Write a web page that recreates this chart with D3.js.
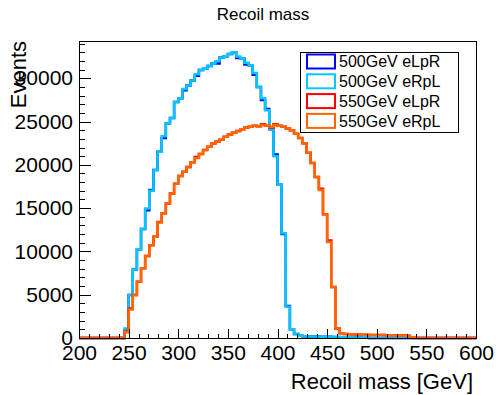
<!DOCTYPE html>
<html>
<head>
<meta charset="utf-8">
<script src="https://cdn.jsdelivr.net/npm/d3@7/dist/d3.min.js"></script>
<style>
  body { margin: 0; background: #fff; }
  svg { font-family: "Liberation Sans", Arial, sans-serif; }
</style>
</head>
<body>
<figure id="chart" style="margin:0"></figure>
<script>
// histogram: 96 bins between 200 and 600 GeV
const xMin = 200, xMax = 600, nBins = 96;

const seriesNames = ["500GeV eLpR", "500GeV eRpL", "550GeV eLpR", "550GeV eRpL"];
const seriesColors = ["#0000ff", "#00c8ff", "#ff0000", "#ff6600"];

const xTicks = [200, 250, 300, 350, 400, 450, 500, 550, 600];
const yTicks = [0, 5000, 10000, 15000, 20000, 25000, 30000];

// bin contents (events), bin 0 .. bin 95
const e500LpR = [
  0, 0, 0, 0, 0, 0, 0, 0, 0, 0,
  0, 900, 4970, 7900, 10250, 12600, 14750, 17100, 19400, 21500,
  23100, 24800, 25400, 27250, 27700, 28600, 29150, 29750, 30300, 30950,
  31100, 31400, 31700, 31700, 32400, 32550, 32800, 33000, 32350, 32300,
  31600, 31500, 30400, 29000, 27500, 26450, 24100, 21200, 17700, 12000,
  3700, 1000, 450, 250, 200, 180, 170, 160, 150, 140,
  130, 120, 110, 100, 90, 80, 70, 60, 40, 20,
  0, 0, 0, 0, 0, 0, 0, 0, 0, 0,
  0, 0, 0, 0, 0, 0, 0, 0, 0, 0,
  0, 0, 0, 0, 0, 0
];
const e500RpL = [
  0, 0, 0, 0, 0, 0, 0, 0, 0, 0,
  0, 1100, 4970, 7900, 10250, 12600, 14950, 17000, 19400, 21500,
  23300, 24800, 25400, 27250, 27700, 28750, 29150, 29750, 30450, 30950,
  31100, 31400, 31700, 31950, 32400, 32550, 32800, 33000, 32500, 32300,
  31800, 31500, 30600, 29000, 27700, 26300, 24100, 21000, 17700, 12100,
  3600, 1000, 450, 250, 200, 180, 170, 160, 150, 140,
  130, 120, 110, 100, 90, 80, 70, 60, 40, 20,
  0, 0, 0, 0, 0, 0, 0, 0, 0, 0,
  0, 0, 0, 0, 0, 0, 0, 0, 0, 0,
  0, 0, 0, 0, 0, 0
];
const e550LpR = [
  0, 0, 0, 0, 0, 0, 0, 0, 0, 0,
  0, 700, 3400, 4970, 6500, 8050, 9470, 10700, 11700, 13400,
  14400, 15520, 16700, 17800, 18700, 19200, 19750, 20300, 20900, 21250,
  21700, 22100, 22450, 22700, 22900, 23250, 23500, 23700, 23900, 24100,
  24300, 24400, 24500, 24450, 24700, 24500, 24300, 24700, 24500, 24400,
  24200, 24000, 23600, 23100, 22500, 21400, 20200, 18600, 17250, 14300,
  11250, 5900, 1100, 540, 450, 420, 400, 400, 380, 380,
  360, 350, 350, 340, 330, 320, 300, 300, 280, 260,
  100, 0, 0, 0, 0, 0, 0, 0, 0, 0,
  0, 0, 0, 0, 0, 0
];
const e550RpL = [
  0, 0, 0, 0, 0, 0, 0, 0, 0, 0,
  0, 700, 3300, 4970, 6500, 8050, 9470, 10700, 11700, 13340,
  14400, 15520, 16700, 17800, 18700, 19200, 19750, 20300, 20800, 21250,
  21700, 22100, 22450, 22700, 22900, 23250, 23500, 23700, 23900, 24100,
  24300, 24400, 24500, 24450, 24600, 24500, 24400, 24600, 24500, 24400,
  24200, 24000, 23600, 23100, 22500, 21400, 20200, 18600, 17100, 14300,
  11100, 5900, 1100, 540, 450, 420, 400, 400, 380, 380,
  360, 350, 350, 340, 330, 320, 300, 300, 280, 260,
  100, 0, 0, 0, 0, 0, 0, 0, 0, 0,
  0, 0, 0, 0, 0, 0
];

const allSeries = [e500LpR, e500RpL, e550LpR, e550RpL];

const width = 496, height = 395;
const frame = { left: 79, right: 476, top: 41, bottom: 338 };

const svg = d3.select("figure#chart")
  .append("svg")
  .attr("width", width)
  .attr("height", height);

const x = d3.scaleLinear().domain([xMin, xMax]).range([frame.left, frame.right]);
const y = d3.scaleLinear().domain([0, 34300]).range([frame.bottom, frame.top]);

const binWidth = (xMax - xMin) / nBins;

// step outline like ROOT "HIST"
const stepLine = d3.line()
  .x(d => x(d[0]))
  .y(d => y(d[1]))
  .curve(d3.curveStepAfter);

allSeries.forEach((vals, i) => {
  const pts = vals.map((v, k) => [xMin + k * binWidth, v]);
  pts.push([xMax, vals[vals.length - 1]]);
  svg.append("path")
    .datum(pts)
    .attr("fill", "none")
    .attr("stroke", seriesColors[i])
    .attr("stroke-width", 2.5)
    .attr("d", stepLine);
});

// frame
svg.append("rect")
  .attr("x", frame.left)
  .attr("y", frame.top)
  .attr("width", frame.right - frame.left)
  .attr("height", frame.bottom - frame.top)
  .attr("fill", "none")
  .attr("stroke", "#000")
  .attr("stroke-width", 1)
  .attr("shape-rendering", "crispEdges");

// x axis: major + minor ticks pointing inward
const xMinor = d3.range(xMin, xMax + 1, 10);
svg.append("g")
  .attr("transform", `translate(0,${frame.bottom})`)
  .call(d3.axisBottom(x).tickValues(xMinor).tickSize(-4.5).tickFormat(""))
  .call(g => g.select(".domain").remove());

svg.append("g")
  .attr("transform", `translate(0,${frame.bottom})`)
  .call(d3.axisBottom(x).tickValues(xTicks).tickSize(-9).tickPadding(7).tickFormat(d3.format("d")))
  .call(g => g.select(".domain").remove())
  .call(g => g.selectAll("text").attr("font-size", 21).attr("fill", "#000").attr("font-family", null));

// y axis
const yMinor = d3.range(0, 34001, 1000);
svg.append("g")
  .attr("transform", `translate(${frame.left},0)`)
  .call(d3.axisLeft(y).tickValues(yMinor).tickSize(-6).tickFormat(""))
  .call(g => g.select(".domain").remove());

svg.append("g")
  .attr("transform", `translate(${frame.left},0)`)
  .call(d3.axisLeft(y).tickValues(yTicks).tickSize(-12).tickPadding(6).tickFormat(d3.format("d")))
  .call(g => g.select(".domain").remove())
  .call(g => g.selectAll("text").attr("font-size", 21).attr("fill", "#000").attr("font-family", null));

svg.selectAll(".tick line").attr("stroke", "#000").attr("shape-rendering", "crispEdges");

// titles
svg.append("text")
  .attr("x", 263)
  .attr("y", 20)
  .attr("text-anchor", "middle")
  .attr("font-size", 17)
  .text("Recoil mass");

svg.append("text")
  .attr("x", 473)
  .attr("y", 389)
  .attr("text-anchor", "end")
  .attr("font-size", 22)
  .text("Recoil mass [GeV]");

svg.append("text")
  .attr("transform", "translate(26,41) rotate(-90)")
  .attr("text-anchor", "end")
  .attr("font-size", 22)
  .text("Events");

// legend
const legend = svg.append("g");
legend.append("rect")
  .attr("x", 300.5)
  .attr("y", 52.5)
  .attr("width", 158)
  .attr("height", 80)
  .attr("fill", "#fff")
  .attr("stroke", "#000")
  .attr("stroke-width", 1);

seriesNames.forEach((name, i) => {
  const cy = 61.5 + i * 19.8;
  legend.append("rect")
    .attr("x", 307)
    .attr("y", cy - 7)
    .attr("width", 28)
    .attr("height", 14)
    .attr("fill", "#fff")
    .attr("stroke", seriesColors[i])
    .attr("stroke-width", 2);
  legend.append("text")
    .attr("x", 339)
    .attr("y", cy)
    .attr("dy", "0.35em")
    .attr("font-size", 16)
    .text(name);
});
</script>
</body>
</html>
